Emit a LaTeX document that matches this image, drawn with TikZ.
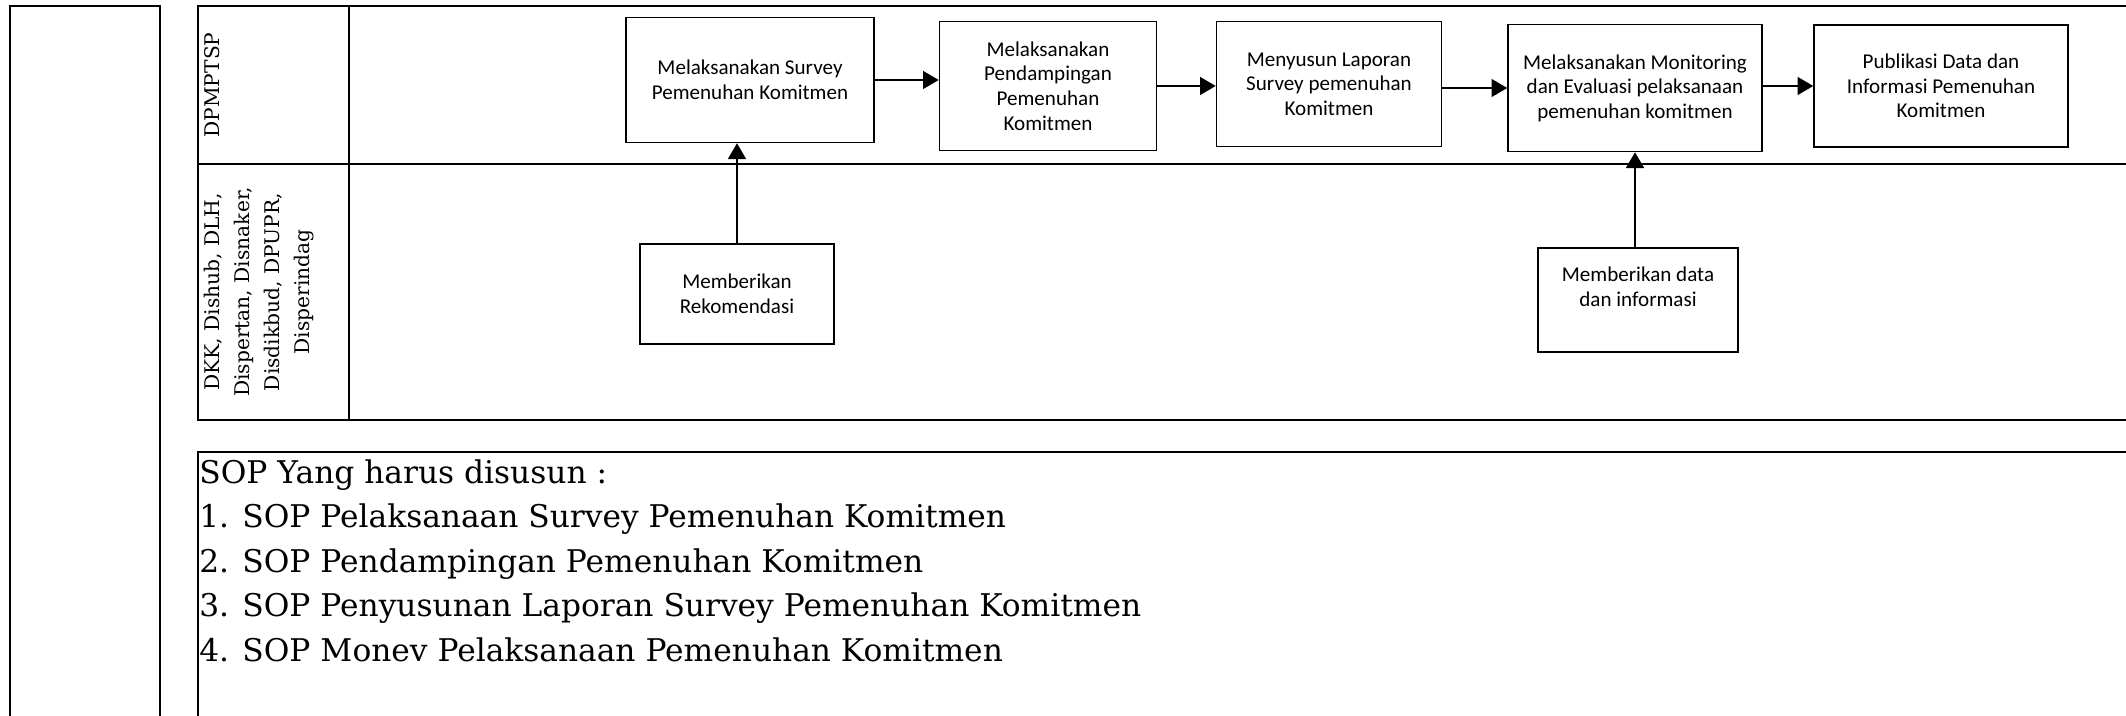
\documentclass[tikz,border=0pt]{standalone}
\usepackage{fontspec}
\usepackage{tikz}
\usetikzlibrary{arrows.meta}
\newfontfamily\lanefont{DejaVu Serif}
\newfontfamily\boxfont{Carlito}

\begin{document}
\begin{tikzpicture}
		[x=0.02cm,y=-0.02cm,
		b/.style= {draw=black,line width=0.8pt,rectangle,inner sep=2pt,align=center,font=\boxfont\fontsize{12}{14}\selectfont},
		lane/.style= {draw=black,line width=1.7pt},
		flow/.style= {-{Triangle[length=9pt,width=10pt]},line width=1.6pt},
		lbl/.style= {rotate=90,align=center,inner sep=0pt,font=\lanefont\fontsize{11.5}{17}\selectfont},
		sop/.style= {anchor=base west,inner sep=0pt,font=\lanefont\fontsize{17.8}{25}\selectfont}]

		\useasboundingbox (0,0) rectangle (2126,716);

		\draw[lane] (10,730) -- (10,6) -- (160,6) -- (160,730);
		\draw[lane] (2140,6) -- (198,6) -- (198,420) -- (2140,420);
		\draw[lane] (349,6) -- (349,420);
		\draw[lane] (198,164) -- (2140,164);
		\draw[lane] (2140,452) -- (198,452) -- (198,730);

		\node[lbl] (l0) at (212,85) {DPMPTSP};
		\node[lbl] (l1) at (259,292) {DKK, Dishub, DLH,\\ Dispertan, Disnaker,\\ Disdikbud, DPUPR,\\ Disperindag};

		\node[b,minimum width=4.96cm,minimum height=2.5cm] (n1) at (750,80) {Melaksanakan Survey\\ Pemenuhan Komitmen};
		\node[b,minimum width=4.34cm,minimum height=2.58cm] (n2) at (1048,86) {Melaksanakan\\ Pendampingan\\ Pemenuhan\\ Komitmen};
		\node[b,minimum width=4.5cm,minimum height=2.5cm] (n3) at (1329,84) {Menyusun Laporan\\ Survey pemenuhan\\ Komitmen};
		\node[b,minimum width=5.08cm,minimum height=2.54cm] (n4) at (1635,88) {Melaksanakan Monitoring\\ dan Evaluasi pelaksanaan\\ pemenuhan komitmen};
		\node[b,minimum width=5.08cm,minimum height=2.44cm] (n5) at (1941,86) {Publikasi Data dan\\ Informasi Pemenuhan\\ Komitmen};

		\node[b,minimum width=3.88cm,minimum height=2.0cm] (n6) at (737,294) {Memberikan\\ Rekomendasi};
		\node[b,minimum width=4.0cm,minimum height=2.08cm,text depth=15pt] (n7) at (1638,300) {Memberikan data\\ dan informasi};

		\draw[flow] (n1.east) -- (n1.east -| n2.west);
		\draw[flow] (n2.east) -- (n2.east -| n3.west);
		\draw[flow] (n4.west -| n3.east) -- (n4.west);
		\draw[flow] (n5.west -| n4.east) -- (n5.west);
		\draw[flow] (n6.north) -- (n6.north |- n1.south);
		\draw[flow] (n4.south |- n7.north) -- (n4.south);

		\node[sop] (s0) at (199,483) {SOP Yang harus disusun :};
		\node[sop] (s1) at (199,527.5) {1. SOP Pelaksanaan Survey Pemenuhan Komitmen};
		\node[sop] (s2) at (199,572) {2. SOP Pendampingan Pemenuhan Komitmen};
		\node[sop] (s3) at (199,616.5) {3. SOP Penyusunan Laporan Survey Pemenuhan Komitmen};
		\node[sop] (s4) at (199,661) {4. SOP Monev Pelaksanaan Pemenuhan Komitmen};

	\end{tikzpicture}
\end{document}
